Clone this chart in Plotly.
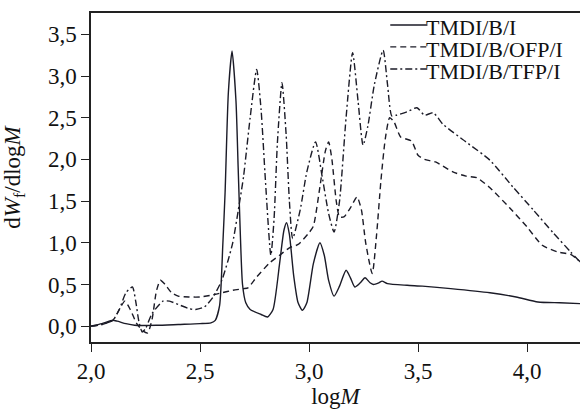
import plotly.graph_objects as go

# ---- data ----
series_names = ["TMDI/B/I", "TMDI/B/OFP/I", "TMDI/B/TFP/I"]

logM_I = [2.0, 2.05, 2.1, 2.12, 2.16, 2.2, 2.3, 2.4, 2.5, 2.55, 2.57, 2.59, 2.605, 2.615,
          2.63, 2.647, 2.665, 2.675, 2.685, 2.695, 2.71, 2.73, 2.78, 2.81, 2.835, 2.865,
          2.885, 2.897, 2.91, 2.93, 2.95, 2.97, 2.99, 3.02, 3.05, 3.07, 3.09, 3.115, 3.14,
          3.17, 3.19, 3.21, 3.235, 3.257, 3.28, 3.295, 3.32, 3.335, 3.36, 3.45, 3.52, 3.65,
          3.83, 3.95, 4.05, 4.15, 4.25]
dW_I = [0.0, 0.03, 0.07, 0.06, 0.03, 0.01, 0.01, 0.02, 0.03, 0.04, 0.07, 0.25, 1.0, 1.6,
        2.8, 3.3, 2.7, 1.9, 1.1, 0.5, 0.28, 0.2, 0.14, 0.11, 0.2, 0.75,
        1.15, 1.24, 1.1, 0.6, 0.28, 0.19, 0.28, 0.75, 1.0, 0.85, 0.55, 0.36, 0.48,
        0.67, 0.58, 0.47, 0.52, 0.58, 0.52, 0.5, 0.52, 0.54, 0.51, 0.49, 0.48, 0.45,
        0.40, 0.35, 0.29, 0.28, 0.27]

logM_OFP = [2.0, 2.05, 2.1, 2.13, 2.155, 2.18, 2.21, 2.24, 2.26, 2.28, 2.30, 2.318, 2.34,
            2.37, 2.4, 2.45, 2.5, 2.55, 2.6, 2.65, 2.7, 2.72, 2.76, 2.82, 2.865, 2.91, 2.95,
            3.0, 3.02, 3.05, 3.075, 3.09, 3.105, 3.125, 3.14, 3.16, 3.19, 3.22, 3.24, 3.26,
            3.29, 3.31, 3.33, 3.35, 3.37, 3.39, 3.42, 3.47, 3.50, 3.53, 3.58, 3.66, 3.72,
            3.77, 3.83, 3.92, 4.0, 4.07, 4.14, 4.2, 4.25]
dW_OFP = [0.0, 0.02, 0.07, 0.2, 0.3, 0.2, 0.03, -0.06, -0.08, 0.08, 0.42, 0.55, 0.5,
          0.4, 0.36, 0.35, 0.35, 0.37, 0.4, 0.43, 0.45, 0.46, 0.59, 0.76, 0.85, 0.94, 0.98,
          1.12, 1.2, 1.67, 2.1, 2.21, 2.0, 1.5, 1.31, 1.31, 1.42, 1.55, 1.4, 1.0,
          0.63, 1.1, 1.75, 2.25, 2.5, 2.45, 2.27, 2.22, 2.05, 2.0, 1.97, 1.85, 1.8,
          1.78, 1.66, 1.42, 1.19, 0.97, 0.89, 0.86, 0.76]

logM_TFP = [2.0, 2.05, 2.1, 2.13, 2.16, 2.19, 2.205, 2.22, 2.235, 2.25, 2.28, 2.33, 2.36,
            2.4, 2.45, 2.48, 2.52, 2.56, 2.6, 2.63, 2.65, 2.683, 2.70, 2.73, 2.76, 2.78,
            2.80, 2.825, 2.84, 2.855, 2.876, 2.895, 2.91, 2.925, 2.96, 2.99, 3.03, 3.06,
            3.09, 3.115, 3.14, 3.17, 3.20, 3.225, 3.248, 3.27, 3.30, 3.34, 3.36, 3.38, 3.40,
            3.45, 3.495, 3.53, 3.57, 3.615, 3.72, 3.83, 3.935, 4.03, 4.12, 4.2, 4.25]
dW_TFP = [0.0, 0.02, 0.07, 0.2, 0.4, 0.47, 0.3, 0.05, -0.07, -0.03, 0.15, 0.3, 0.3,
          0.26, 0.21, 0.2, 0.23, 0.35, 0.55, 0.8, 1.0, 1.51, 1.8, 2.5, 3.08, 2.6,
          1.75, 0.85, 1.3, 2.2, 2.92, 2.3, 1.5, 1.05, 1.4, 1.85, 2.21, 1.8,
          1.35, 1.13, 1.5, 2.5, 3.28, 2.7, 2.17, 2.4, 2.9, 3.31, 2.9, 2.52, 2.53,
          2.57, 2.62, 2.53, 2.56, 2.42, 2.21, 1.99, 1.67, 1.39, 1.12, 0.89, 0.75]

x_ticks = [2.0, 2.5, 3.0, 3.5, 4.0]
y_ticks = [0.0, 0.5, 1.0, 1.5, 2.0, 2.5, 3.0, 3.5]

# ---- styling ----
LINE = "#1b1b27"
FONT = "Liberation Serif, Times New Roman, serif"
styles = ["solid", "6px,4px", "7px,3px,2px,3px"]

fig = go.Figure()
for name, xs, ys, dash in zip(series_names,
                              [logM_I, logM_OFP, logM_TFP],
                              [dW_I, dW_OFP, dW_TFP], styles):
    fig.add_trace(go.Scatter(x=xs, y=ys, mode="lines", name=name, showlegend=False,
                             line=dict(color=LINE, width=1.4, dash=dash,
                                       shape="spline", smoothing=0.6)))

# legend drawn as line samples + text (compact spacing as in reference)
leg_y = [0.9635, 0.897, 0.830]
for name, dash, yy in zip(series_names, styles, leg_y):
    fig.add_shape(type="line", xref="paper", yref="paper", x0=0.612, x1=0.688,
                  y0=yy, y1=yy, line=dict(color=LINE, width=1.4, dash=dash))
    fig.add_annotation(text=name, xref="paper", yref="paper", x=0.684, y=yy - 0.008,
                       xanchor="left", yanchor="middle", showarrow=False, borderpad=0,
                       font=dict(family=FONT, size=22, color="#111"))

fig.update_layout(
    width=580, height=410,
    margin=dict(l=91, r=0, t=13, b=68),
    paper_bgcolor="white", plot_bgcolor="white",
    separators=", ",
    font=dict(family=FONT, size=23, color="#111"),
    xaxis=dict(range=[2.0, 4.243], tickvals=x_ticks, tickformat=".1f",
               showline=True, linecolor="#222", linewidth=1.5, mirror=True,
               ticks="outside", ticklen=8, tickcolor="#222", tickwidth=1.2,
               showgrid=False, zeroline=False, automargin=False,
               title=dict(text="log<i>M</i>", standoff=4,
                          font=dict(family=FONT, size=23))),
    yaxis=dict(range=[-0.19, 3.756], tickvals=y_ticks, tickformat=".1f",
               showline=True, linecolor="#222", linewidth=1.5,
               ticks="outside", ticklen=8, tickcolor="#222", tickwidth=1.2,
               showgrid=False, zeroline=False, automargin=False,
               title=dict(text="d<i>W</i><sub>f</sub>/dlog<i>M</i>", standoff=22,
                          font=dict(family=FONT, size=23))),
)

fig.write_html("out.html", config={"displayModeBar": False},
               post_script="document.body.style.margin='0';"
                           "document.body.style.overflow='hidden';")
